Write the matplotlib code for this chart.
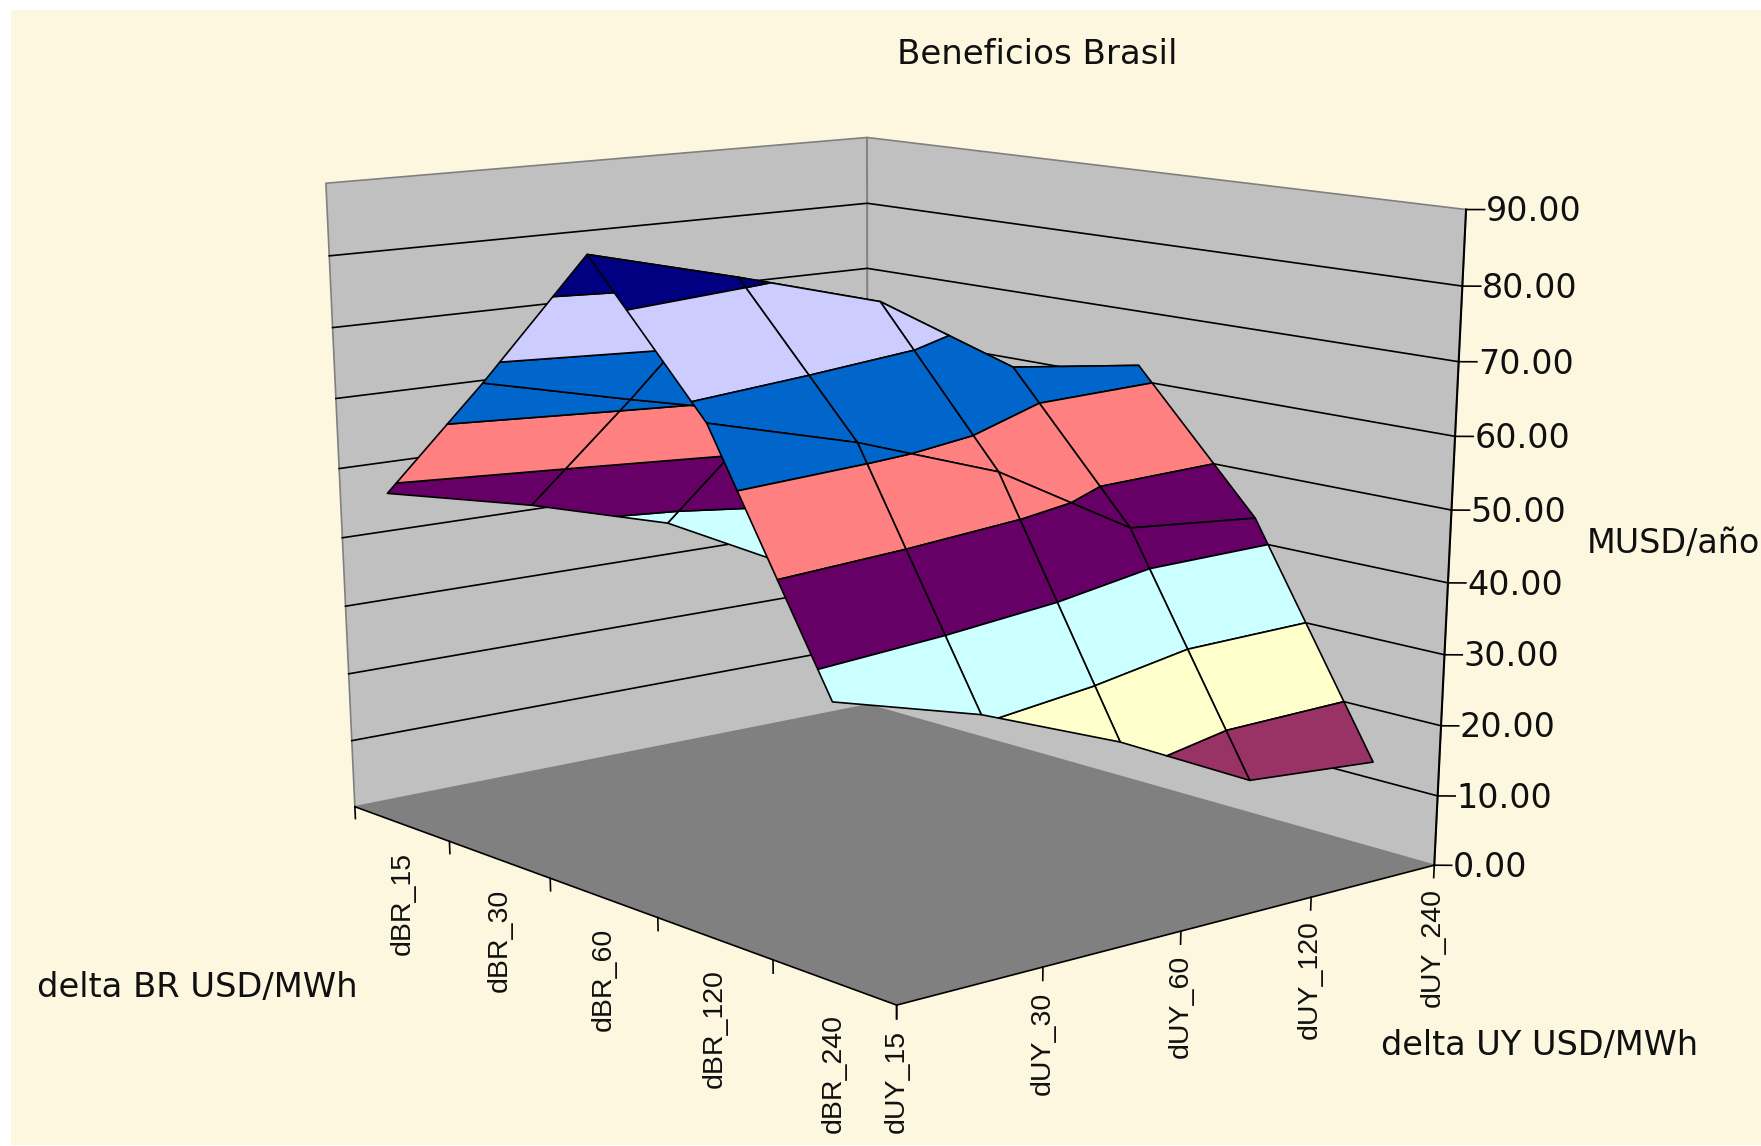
import numpy as np
import matplotlib
matplotlib.use('Agg') # no display here
import matplotlib.pyplot as plt
from matplotlib.patches import Rectangle
from mpl_toolkits.mplot3d import proj3d
from mpl_toolkits.mplot3d.art3d import Poly3DCollection

W, H = 1761, 1146

dbr_labels = ['dBR_15', 'dBR_30', 'dBR_60', 'dBR_120', 'dBR_240']
duy_labels = ['dUY_15', 'dUY_30', 'dUY_60', 'dUY_120', 'dUY_240']
z_ticks = [0, 10, 20, 30, 40, 50, 60, 70, 80, 90]

# beneficios MUSD/año, one list per dBR, going dUY_15 .. dUY_240
dbr_15 = [48.2, 43.5, 37.8, 27.8, 21.0]
dbr_30 = [66.7, 61.9, 57.4, 47.1, 42.7]
dbr_60 = [86.2, 81.2, 75.8, 64.4, 62.2]
dbr_120 = [67.7, 62.5, 55.8, 45.1, 43.4]
dbr_240 = [36.4, 30.9, 23.3, 13.9, 12.4]

band_colors = ['#9999FF', '#993366', '#FFFFCC', '#CCFFFF', '#660066',
               '#FF8080', '#0066CC', '#CCCCFF', '#000080']

BG = '#FEF7E0'
WALL = '#C0C0C0'
FLOOR = '#808080'
INK = '#101010'
LW = 1.2
ROT_FONT = 'Liberation Sans'

# the source picture is wider than tall, so x and y need their own scale
SX, TX = 7478.23, 880.29
SY, TY = 5693.54, 524.34


def clip_z(poly, z0, z1):
    # keep the part of a polygon between two heights
    for level, sign in ((z0, 1), (z1, -1)):
        out = []
        for i in range(len(poly)):
            a, b = poly[i], poly[(i + 1) % len(poly)]
            da, db = sign * (a[2] - level), sign * (b[2] - level)
            if da >= 0:
                out.append(a)
            if da * db < 0:
                t = da / (da - db)
                out.append(tuple(a[k] + t * (b[k] - a[k]) for k in range(3)))
        poly = out
        if not poly:
            break
    return poly


def label3d(x, y, z, s, **kw):
    # text at a 3D spot, but upright on screen
    px, py, _ = proj3d.proj_transform(x, y, z, ax.get_proj())
    ax.text2D(px, py, s, color=INK, **kw)


surface = np.array([dbr_15, dbr_30, dbr_60, dbr_120, dbr_240])
xs = np.arange(len(dbr_labels)) + 0.5
ys = np.arange(len(duy_labels))
xmax, ymax, zmax = 5, 4, 90

fig = plt.figure(figsize=(W / 100, H / 100), dpi=100, facecolor='white')
fig.add_artist(Rectangle((11 / W, 1 / H), 1 - 11 / W, 1 - 11 / H, transform=fig.transFigure,
                         facecolor=BG, edgecolor='none', zorder=-1))

# 3D axes are always square, so make one as wide as the figure
ax = fig.add_axes([0, (H - W) / 2 / H, 1, W / H], projection='3d', computed_zorder=False)
ax.set_facecolor('none')
ax.set_axis_off()
ax.view_init(elev=14.727, azim=-39.996, roll=0.016)
ax.set_proj_type('persp', focal_length=0.5392)
ax.set_box_aspect((1.0197, 0.8121, 1.0))
ax.set_xlim(0, xmax)
ax.set_ylim(0, ymax)
ax.set_zlim(0, zmax)
ax.viewLim.intervalx = ((0 - TX) / SX, (W - TX) / SX)
ax.viewLim.intervaly = ((TY - (H + W) / 2) / SY, (TY - (H - W) / 2) / SY)

# walls and floor
walls = [[(0, 0, 0), (0, ymax, 0), (0, ymax, zmax), (0, 0, zmax)],
         [(0, ymax, 0), (xmax, ymax, 0), (xmax, ymax, zmax), (0, ymax, zmax)]]
ax.add_collection3d(Poly3DCollection(walls, facecolors=WALL, edgecolors=FLOOR, linewidths=LW, zorder=1),
                    autolim=False)
floor = [[(0, 0, 0), (xmax, 0, 0), (xmax, ymax, 0), (0, ymax, 0)]]
ax.add_collection3d(Poly3DCollection(floor, facecolors=FLOOR, edgecolors='none', zorder=1.5), autolim=False)

# gridlines
for z in z_ticks[1:-1]:
    ax.plot([0, 0, xmax], [0, ymax, ymax], [z, z, z], color='black', lw=LW, zorder=2)

# axis lines and ticks
ax.plot([0, xmax, xmax], [0, 0, ymax], [0, 0, 0], color='black', lw=LW, zorder=2)
ax.plot([xmax, xmax], [ymax, ymax], [0, zmax], color='black', lw=LW + 0.3, zorder=2)
for z in z_ticks:
    ax.plot([xmax, xmax + 0.065], [ymax, ymax + 0.074], [z, z], color='black', lw=LW, zorder=2)
    label3d(xmax + 0.07, ymax + 0.08, z - 0.3, f'{z:.2f}', ha='left', va='center', fontsize=24)
for x in range(xmax + 1):
    ax.plot([x, x], [0, 0], [0, -1.8], color='black', lw=LW, zorder=2)
for y in range(ymax + 1):
    ax.plot([xmax, xmax], [y, y], [0, -1.8], color='black', lw=LW, zorder=2)

for x, label in zip(xs, dbr_labels):
    label3d(x, 0, -4.3, label, rotation=90, ha='center', va='top', fontsize=20.5, family=ROT_FONT)
for y, label in zip(ys, duy_labels):
    label3d(xmax, y, -3.3, label, rotation=90, ha='center', va='top', fontsize=20.5, family=ROT_FONT)

# surface, far cells first, each cell cut into 10 unit bands
order = 3
for i in range(len(xs) - 1):
    for j in range(len(ys) - 2, -1, -1):
        quad = [(xs[i], ys[j], surface[i, j]), (xs[i + 1], ys[j], surface[i + 1, j]),
                (xs[i + 1], ys[j + 1], surface[i + 1, j + 1]), (xs[i], ys[j + 1], surface[i, j + 1])]
        polys, cols = [], []
        for b, color in enumerate(band_colors):
            piece = clip_z(quad, b * 10, (b + 1) * 10)
            if len(piece) >= 3:
                polys.append(piece)
                cols.append(color)
        ax.add_collection3d(Poly3DCollection(polys, facecolors=cols, edgecolors='black', linewidths=LW,
                                             zorder=order), autolim=False)
        order += 1

fig.text(1037 / W, 1 - 55 / H, 'Beneficios Brasil', ha='center', va='center', fontsize=24.5, color=INK)
fig.text(1587 / W, 1 - 544 / H, 'MUSD/año', ha='left', va='center', fontsize=24, color=INK)
fig.text(37 / W, 1 - 987 / H, 'delta BR USD/MWh', ha='left', va='center', fontsize=24.3, color=INK)
fig.text(1381 / W, 1 - 1045 / H, 'delta UY USD/MWh', ha='left', va='center', fontsize=24.1, color=INK)

fig.savefig('out.png', dpi=100, facecolor=fig.get_facecolor())
